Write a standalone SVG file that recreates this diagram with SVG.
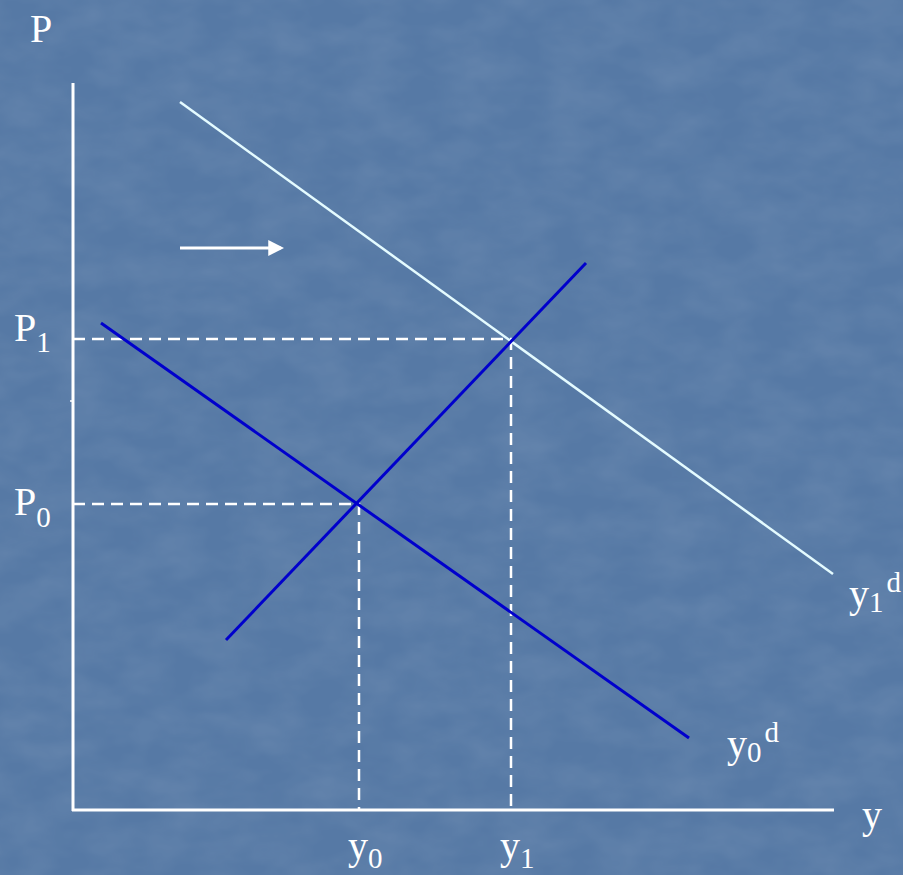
<svg xmlns="http://www.w3.org/2000/svg" width="903" height="875" viewBox="0 0 903 875">
<defs>
<style>
.t{font-family:"Liberation Serif","Times New Roman",serif;fill:#ffffff;}
.big{font-size:40px;}
.sub{font-size:29px;}
.axis{stroke:#ffffff;stroke-width:3;fill:none;}
.dash{stroke:#ffffff;stroke-width:2.5;stroke-dasharray:12,7;fill:none;}
.blue{stroke:#0000cc;stroke-width:3;fill:none;}
.light{stroke:#e4fbff;stroke-width:2.5;fill:none;}
</style>
<marker id="ah" viewBox="0 0 10 10" refX="8" refY="5" markerWidth="5.3" markerHeight="5.3" orient="auto" markerUnits="strokeWidth">
<path d="M0,0 L10,5 L0,10 z" fill="#ffffff"/>
</marker>
<filter id="tex" x="0" y="0" width="100%" height="100%">
<feTurbulence type="fractalNoise" baseFrequency="0.02 0.035" numOctaves="3" seed="4" result="n"/>
<feColorMatrix type="matrix" values="0 0 0 0 1  0 0 0 0 1  0 0 0 0 1  0 0 0 0.35 -0.1"/>
</filter>
</defs>
<rect width="903" height="875" fill="#5679a5"/>
<rect width="903" height="875" filter="url(#tex)" opacity="0.35"/>
<g id="axes">
<line class="axis" x1="73" y1="83" x2="73" y2="811"/>
<line class="axis" x1="72" y1="810" x2="834" y2="810"/>
<line x1="70" y1="401" x2="73" y2="401" stroke="#ffffff" stroke-width="1.5"/>
</g>
<g id="connectors">
<polyline class="dash" points="73,339 511,339 511,810"/>
<polyline class="dash" points="73,504 359,504 359,810"/>
<line x1="180" y1="248" x2="281" y2="248" stroke="#ffffff" stroke-width="3" marker-end="url(#ah)"/>
</g>
<g id="demand1"><line class="light" x1="180" y1="102" x2="833" y2="574"/></g>
<g id="demand0"><line class="blue" x1="101" y1="323" x2="689" y2="738"/></g>
<g id="supply"><line class="blue" x1="226" y1="640" x2="586" y2="263"/></g>
<g id="labels">
<text class="t big" x="30" y="42">P</text>
<text class="t big" x="14" y="341">P<tspan class="sub" dy="11">1</tspan></text>
<text class="t big" x="14" y="515">P<tspan class="sub" dy="12">0</tspan></text>
<text class="t big" x="348" y="859">y<tspan class="sub" dy="9">0</tspan></text>
<text class="t big" x="500" y="859">y<tspan class="sub" dy="9">1</tspan></text>
<text class="t big" x="862" y="828">y</text>
<text class="t big" x="849" y="607">y<tspan class="sub" dy="5">1</tspan><tspan class="sub" dx="3" dy="-20">d</tspan></text>
<text class="t big" x="727" y="757">y<tspan class="sub" dy="5">0</tspan><tspan class="sub" dx="3" dy="-20">d</tspan></text>
</g>
</svg>
